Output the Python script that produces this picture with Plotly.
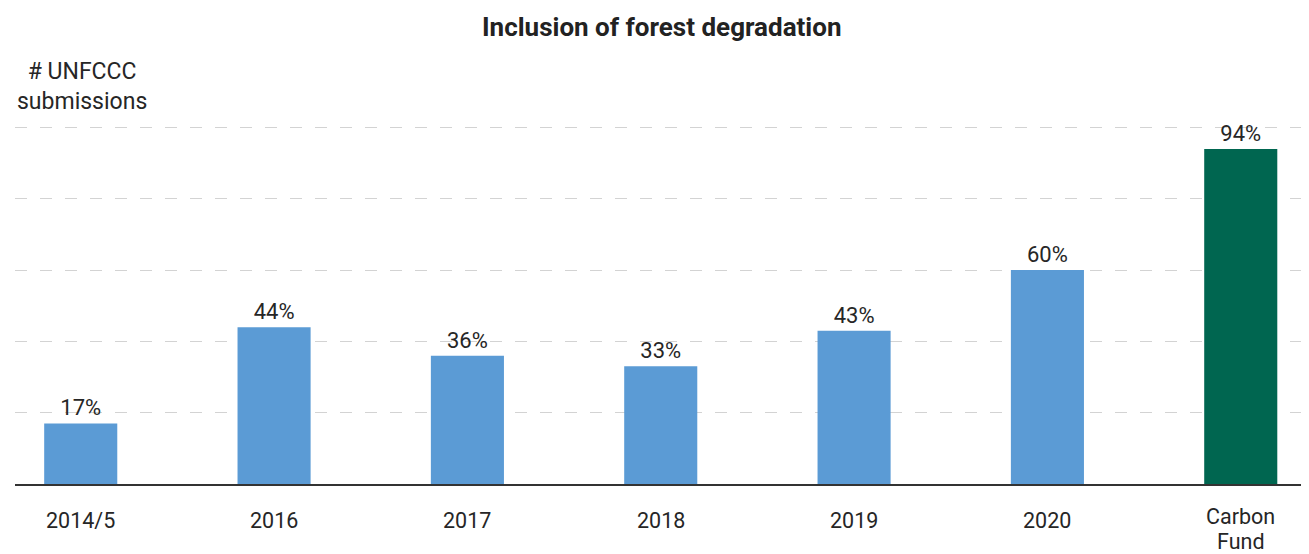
import plotly.graph_objects as go

categories = ["2014/5", "2016", "2017", "2018", "2019", "2020", "Carbon<br>Fund"]
values = [17, 44, 36, 33, 43, 60, 94]
bar_colors = ["#5b9bd5"] * 6 + ["#006650"]
labels = [f"{v}%" for v in values]

FONT = "Roboto"
TXT = "#262626"

fig = go.Figure(
    go.Bar(
        x=list(range(len(categories))),
        y=values,
        marker=dict(color=bar_colors, line=dict(width=0)),
        width=0.378,
        text=labels,
        textposition="outside",
        textfont=dict(family=FONT, size=22, color=TXT),
        cliponaxis=False,
        hoverinfo="skip",
    )
)

# category labels: one annotation per line, placed with the x axis scale
cat_annotations = []
for i, cat in enumerate(categories):
    lines = cat.split("<br>")
    lift = 4 * (len(lines) - 1)
    for j, line in enumerate(lines):
        cat_annotations.append(
            dict(
                text=line, xref="x", yref="y", x=i, y=0,
                yshift=-(36 + 25 * j - lift), xanchor="center", yanchor="middle",
                borderpad=0, showarrow=False,
                font=dict(family=FONT, size=21.5, color=TXT),
            )
        )

# page body has an 8px default margin, so the figure is sized 8px smaller
fig.update_layout(
    width=1301,
    height=546,
    margin=dict(l=7, r=0, t=117, b=70),
    plot_bgcolor="white",
    paper_bgcolor="white",
    showlegend=False,
    xaxis=dict(
        range=[-0.34, 6.353],
        tickmode="array",
        tickvals=list(range(len(categories))),
        showticklabels=False,
        showgrid=False,
        showline=True,
        linecolor="#333333",
        linewidth=2,
        ticks="",
        ticklen=0,
        zeroline=False,
        automargin=False,
        fixedrange=True,
    ),
    yaxis=dict(
        range=[0, 100.7],
        tickmode="array",
        tickvals=[20, 40, 60, 80, 100],
        showticklabels=False,
        showgrid=True,
        gridcolor="#d3d3d3",
        gridwidth=1.2,
        griddash="12px,13px",
        zeroline=False,
        showline=False,
        ticks="",
        automargin=False,
        fixedrange=True,
    ),
    annotations=[
        dict(
            text="<b>Inclusion of forest degradation</b>",
            xref="paper", yref="paper", x=0.5, y=1, yshift=98,
            xanchor="center", yanchor="middle", showarrow=False,
            font=dict(family=FONT, size=26, color="#222222"),
        ),
        dict(
            text="# UNFCCC<br>submissions",
            xref="paper", yref="paper", x=0, xshift=67, y=1, yshift=39,
            xanchor="center", yanchor="middle", showarrow=False, align="center",
            font=dict(family=FONT, size=23, color=TXT),
        ),
    ] + cat_annotations,
    bargap=0.62,
)

fig.write_html("out.html")
